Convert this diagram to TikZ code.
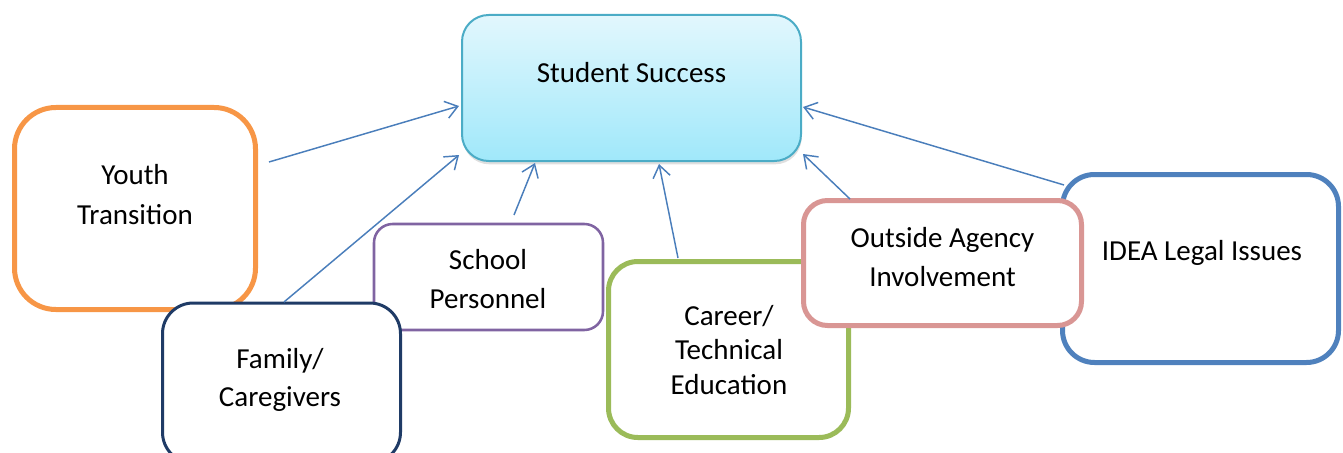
\documentclass[tikz,border=0pt]{standalone}
\usepackage{fontspec}
\setmainfont{Carlito}
\usetikzlibrary{arrows.meta,shadows}
\definecolor{cOrange}{HTML}{F79646}
\definecolor{cNavy}{HTML}{1F3B66}
\definecolor{cPurple}{HTML}{8064A2}
\definecolor{cGreen}{HTML}{9BBB59}
\definecolor{cPink}{HTML}{D99694}
\definecolor{cBlue}{HTML}{4F81BD}
\definecolor{cTeal}{HTML}{4BACC6}
\definecolor{ssTop}{HTML}{E2F7FD}
\definecolor{ssBot}{HTML}{A0E8FA}
\definecolor{cArrow}{HTML}{4A7EBB}
\begin{document}
\begin{tikzpicture}[x=0.75pt,y=-0.75pt,
  box/.style={draw, fill=white, inner sep=0pt},
  lbl/.style={font=\fontsize{21.75}{29}\selectfont, align=center, inner sep=0pt},
  conn/.style={draw=cArrow, line width=1.1pt, -{Straight Barb[length=9pt,width=13pt]}}]
\useasboundingbox (0,0) rectangle (1343,453);
% boxes
\node[box, draw=cOrange, line width=3.75pt, rounded corners=31pt,
  minimum width=180.75pt, minimum height=151.5pt] (yt) at (135,208.5) {};
\node[lbl, font=\fontsize{21.75}{30}\selectfont] (ytt) at (135,195) {Youth\\Transition};
\node[box, draw=cPurple, line width=1.9pt, rounded corners=14pt,
  minimum width=171.75pt, minimum height=79.5pt] (sp) at (488.5,277) {};
\node[lbl] (spt) at (488,279) {School\\Personnel};
\node[box, draw=cGreen, line width=3.75pt, rounded corners=22pt,
  minimum width=180pt, minimum height=132pt] (cte) at (728.5,349.5) {};
\node[lbl, font=\fontsize{21.75}{26}\selectfont] (ctet) at (729,350) {Career/\\Technical\\Education};
\node[box, draw=cBlue, line width=3.75pt, rounded corners=24pt,
  minimum width=207pt, minimum height=141pt] (idea) at (1200.5,268.5) {};
\node[lbl] (ideat) at (1202,253) {IDEA Legal Issues};
\node[box, draw=cPink, line width=3.75pt, rounded corners=18pt,
  minimum width=208.5pt, minimum height=93.75pt] (oai) at (942.5,263) {};
\node[lbl] (oait) at (942.5,257) {Outside Agency\\Involvement};
\node[box, draw=cNavy, line width=2.25pt, rounded corners=23pt,
  minimum width=178.5pt, minimum height=120pt] (fam) at (281.5,383) {};
\node[lbl] (famt) at (280,380) {Family/\\Caregivers};
\node[box, draw=cTeal, line width=1.5pt, rounded corners=20pt,
  top color=ssTop, bottom color=ssBot,
  drop shadow={opacity=0.25, shadow xshift=0.5pt, shadow yshift=-2.5pt},
  minimum width=254.25pt, minimum height=109.5pt] (ss) at (631.5,88) {};
\node[lbl] (sst) at (631.5,73) {Student Success};
% connector end points
\coordinate (s1) at (269,162);  \coordinate (e1) at (459,106);
\coordinate (s2) at (284,302);  \coordinate (e2) at (459,155);
\coordinate (s3) at (514,215);  \coordinate (e3) at (535,163);
\coordinate (s4) at (678,258);  \coordinate (e4) at (659,164);
\coordinate (s5) at (850,199);  \coordinate (e5) at (803,154);
\coordinate (s6) at (1064,185); \coordinate (e6) at (803,107);
\draw[conn] (s1) -- (e1);
\draw[conn] (s2) -- (e2);
\draw[conn] (s3) -- (e3);
\draw[conn] (s4) -- (e4);
\draw[conn] (s5) -- (e5);
\draw[conn] (s6) -- (e6);
\end{tikzpicture}
\end{document}
